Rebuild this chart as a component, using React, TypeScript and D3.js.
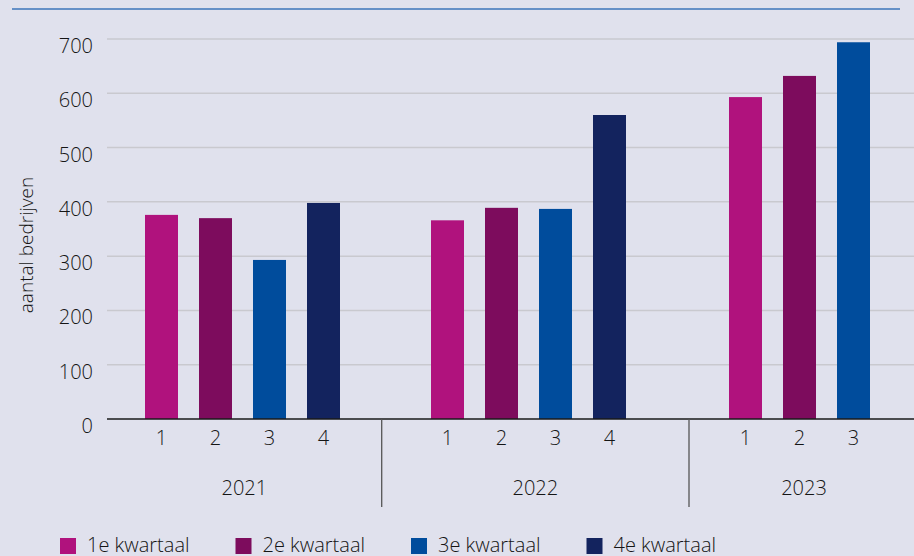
import React from 'react';
import * as d3 from 'd3';

const years = ['2021', '2022', '2023'];
const quarters = ['1', '2', '3', '4'];
const seriesNames = ['1e kwartaal', '2e kwartaal', '3e kwartaal', '4e kwartaal'];
const q1 = [376, 366, 593];
const q2 = [370, 389, 632];
const q3 = [293, 387, 694];
const q4: (number | null)[] = [398, 560, null];
const yTicks = [0, 100, 200, 300, 400, 500, 600, 700];
const yTitle = 'aantal bedrijven';

const colors = ['#b0127d', '#7d0c5d', '#004c9c', '#13235e'];

const W = 914;
const H = 556;
// layout: group boundaries (px) and slot start offsets
const groupEdges = [107, 381.7, 689, 914];
const slotStarts = [134.5, 420.5, 718.5];
const SLOT = 54;

export default function App() {
  const y = d3.scaleLinear().domain([0, 700]).range([419, 39]);
  const series = [q1, q2, q3, q4];
  const inner = (gi: number) =>
    d3
      .scaleBand<string>()
      .domain(quarters)
      .range([slotStarts[gi], slotStarts[gi] + SLOT * 4])
      .paddingInner(21 / 54)
      .paddingOuter(10.5 / 54);

  const font = "'Open Sans', sans-serif";
  const txt = '#151515';
  const fw = 300;

  const bars: JSX.Element[] = [];
  const qLabels: JSX.Element[] = [];
  years.forEach((yr, gi) => {
    const xb = inner(gi);
    quarters.forEach((q, qi) => {
      const v = series[qi][gi];
      if (v == null) return;
      const x0 = xb(q)!;
      bars.push(
        <rect key={`b${gi}${qi}`} x={x0} y={y(v)} width={xb.bandwidth()} height={y(0) - y(v)} fill={colors[qi]} />
      );
      qLabels.push(
        <text key={`l${gi}${qi}`} x={x0 + xb.bandwidth() / 2} y={445} textAnchor="middle" fontSize={20} fontWeight={fw} fill={txt}>
          {q}
        </text>
      );
    });
  });

  return (
    <svg width={W} height={H} style={{ position: 'absolute', left: 0, top: 0, fontFamily: font }}>
      <rect x={0} y={0} width={W} height={H} fill="#e0e1ed" />
      <line x1={12} x2={900} y1={9} y2={9} stroke="#3d74ba" strokeWidth={1.5} />
      {yTicks.map((t) => (
        <g key={t}>
          {t > 0 && <line x1={107} x2={W} y1={y(t)} y2={y(t)} stroke="#c9c9cf" strokeWidth={1.5} />}
          <text x={93} y={y(t) + 14} textAnchor="end" fontSize={20} fontWeight={fw} fill={txt}>
            {t}
          </text>
        </g>
      ))}
      <text transform={`translate(33,${245}) rotate(-90)`} textAnchor="middle" fontSize={19} fontWeight={fw} fill={txt}>
        {yTitle}
      </text>
      {bars}
      <line x1={107} x2={W} y1={y(0)} y2={y(0)} stroke="#1a1a1a" strokeWidth={1.5} />
      {groupEdges.slice(1, 3).map((gx, i) => (
        <line key={i} x1={gx} x2={gx} y1={y(0)} y2={507} stroke="#555" strokeWidth={1.3} />
      ))}
      {qLabels}
      {years.map((yr, gi) => {
        const cx = gi === 2 ? (groupEdges[2] + 919) / 2 : (groupEdges[gi] + groupEdges[gi + 1]) / 2;
        return (
          <text key={yr} x={cx} y={495} textAnchor="middle" fontSize={20} fontWeight={fw} fill={txt}>
            {yr}
          </text>
        );
      })}
      {seriesNames.map((s, i) => (
        <g key={s} transform={`translate(${60 + i * 175.5},538)`}>
          <rect x={0} y={0} width={16} height={16} fill={colors[i]} />
          <text x={27} y={14} fontSize={20} fontWeight={fw} fill={txt}>
            {s}
          </text>
        </g>
      ))}
    </svg>
  );
}
